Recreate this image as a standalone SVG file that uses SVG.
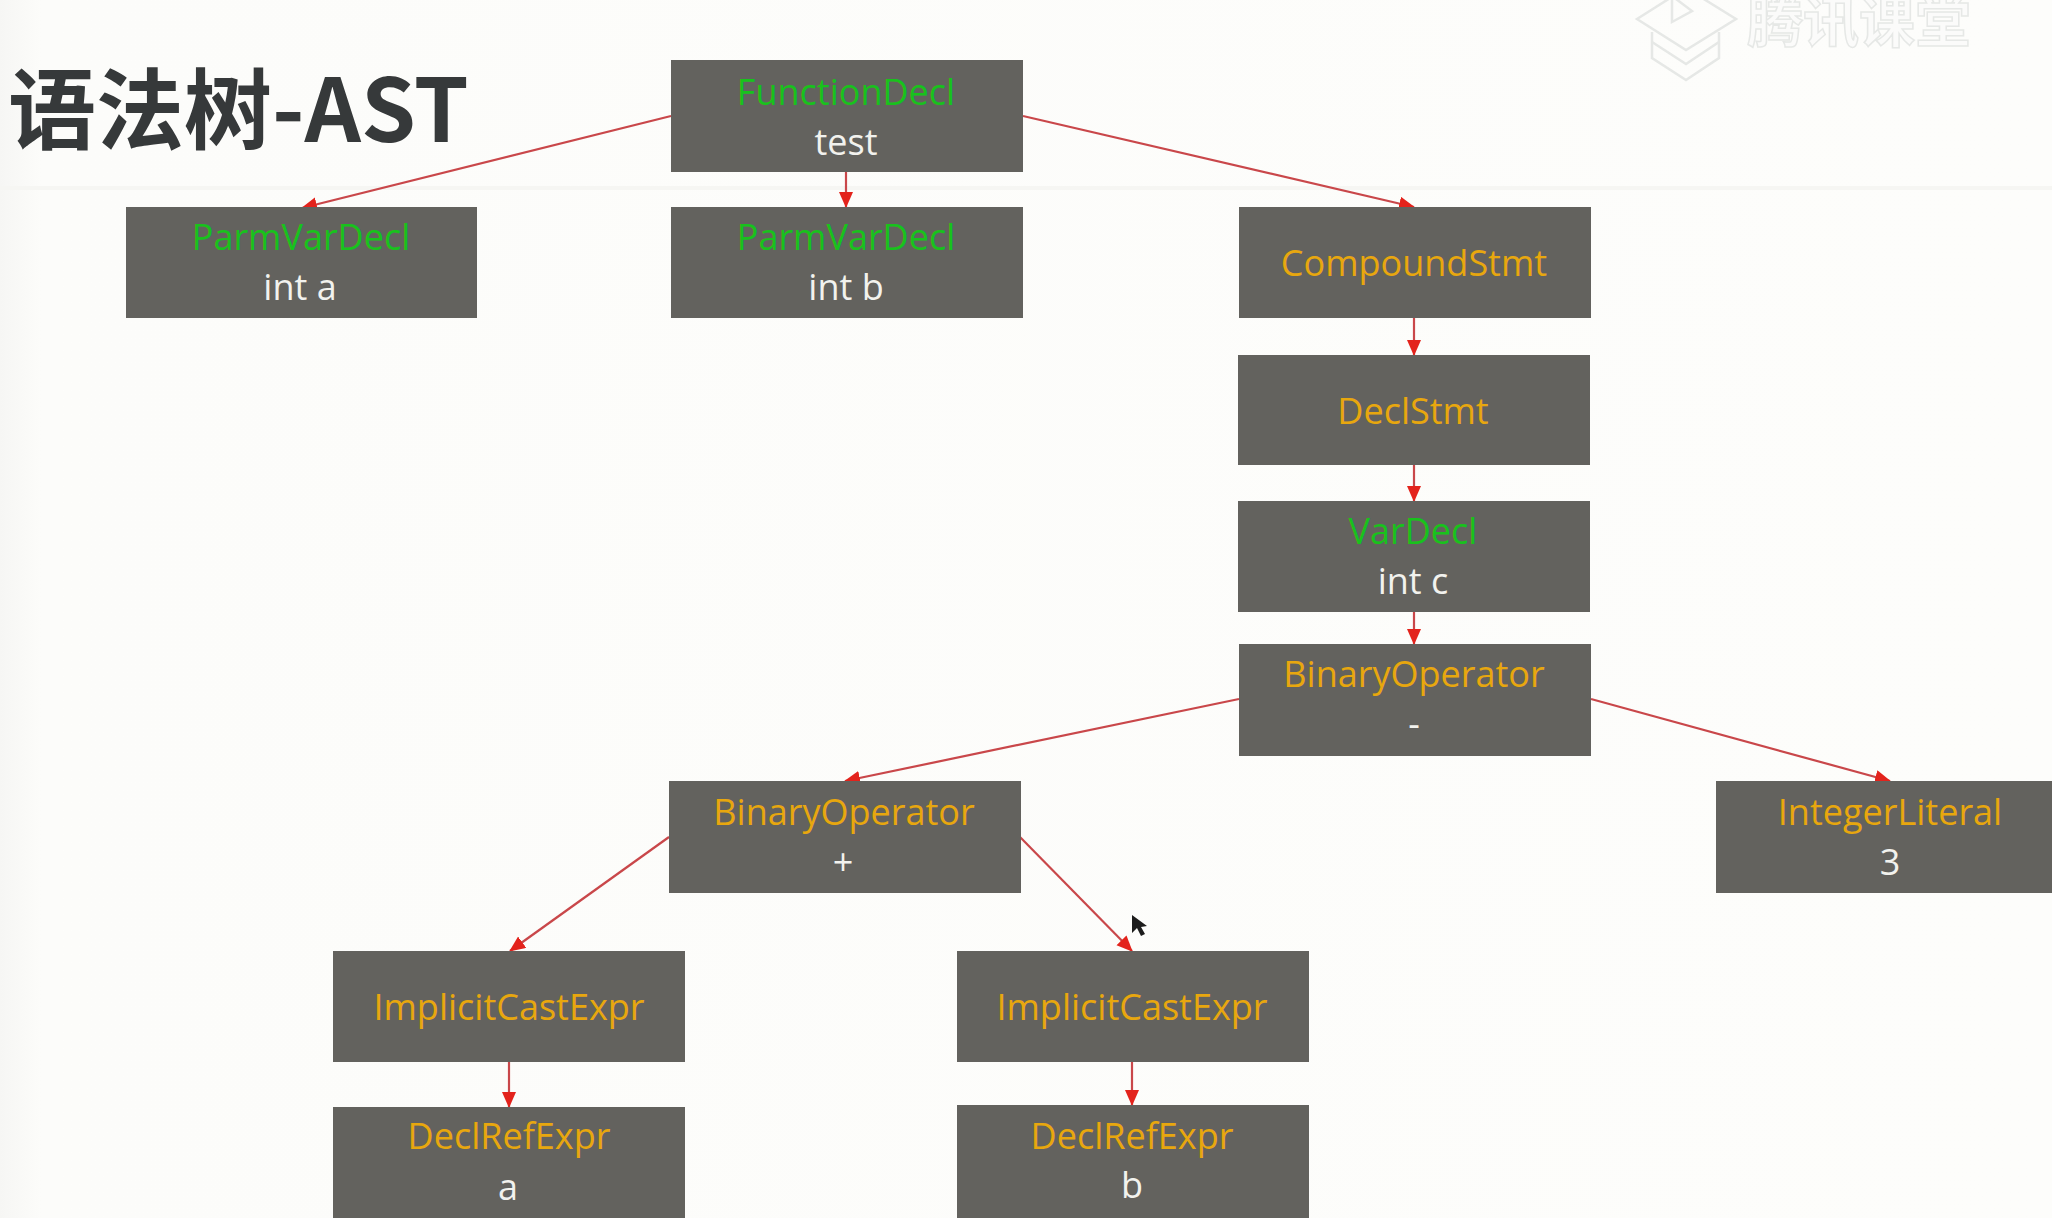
<svg xmlns="http://www.w3.org/2000/svg" width="2052" height="1218" viewBox="0 0 2052 1218">
<style>
.box{fill:#63625e}
.t{font-family:"Open Sans","Noto Sans",sans-serif;font-size:36px;text-anchor:middle}
.g{fill:#18c21c}.o{fill:#e8a70e}.w{fill:#f2f2ee}
.e{stroke:#c9474a;stroke-width:2.2;fill:none;marker-end:url(#a)}
</style>
<defs>
<marker id="a" markerUnits="userSpaceOnUse" markerWidth="18" markerHeight="16" refX="15" refY="7" orient="auto"><path d="M0 0L16 7L0 14Z" fill="#e3231c"/></marker>
<linearGradient id="bg" x1="0" x2="1" y1="0" y2="0"><stop offset="0" stop-color="#f6f6f4"/><stop offset="0.02" stop-color="#fcfcfa"/><stop offset="1" stop-color="#fdfdfb"/></linearGradient>
</defs>
<rect width="2052" height="1218" fill="url(#bg)"/>
<path d="M0 188H2052" stroke="#f6f6f3" stroke-width="4"/>
<g id="watermark" fill="none" stroke="#e6e8e6" stroke-width="2.5">
<path d="M1637 19L1686 -12L1736 19L1686 50Z"/>
<path d="M1652 32V58L1686 80L1719 58V32"/>
<path d="M1652 42L1686 64L1719 42"/>
<path d="M1672 -4V22L1692 11Z"/>
<text x="1747" y="42" font-family="Noto Sans CJK SC,sans-serif" font-size="56" font-weight="700" fill="#fbfbfa" stroke-width="1.5">腾讯课堂</text>
</g>
<text id="title" x="8" y="142" font-family="Noto Sans CJK SC,sans-serif" font-size="88" font-weight="700" fill="#36393a">语法树-AST</text>
<g id="connectors">
<path class="e" d="M671 116L302 208"/>
<path class="e" d="M846 171V207"/>
<path class="e" d="M1023 116L1414 207"/>
<path class="e" d="M1414 318V355"/>
<path class="e" d="M1414 465V501"/>
<path class="e" d="M1414 611V644"/>
<path class="e" d="M1239 699L845 781"/>
<path class="e" d="M1591 699L1890 781"/>
<path class="e" d="M669 837L510 951"/>
<path class="e" d="M1020 837L1132 951"/>
<path class="e" d="M509 1062V1107"/>
<path class="e" d="M1132 1062V1105"/>
</g>
<g id="n1"><rect class="box" x="671" y="60" width="352" height="112"/><text class="t g" x="846" y="105">FunctionDecl</text><text class="t w" x="846" y="155">test</text></g>
<g id="n2"><rect class="box" x="126" y="207" width="351" height="111"/><text class="t g" x="301" y="250">ParmVarDecl</text><text class="t w" x="300" y="300">int a</text></g>
<g id="n3"><rect class="box" x="671" y="207" width="352" height="111"/><text class="t g" x="846" y="250">ParmVarDecl</text><text class="t w" x="846" y="300">int b</text></g>
<g id="n4"><rect class="box" x="1239" y="207" width="352" height="111"/><text class="t o" x="1414" y="276">CompoundStmt</text></g>
<g id="n5"><rect class="box" x="1238" y="355" width="352" height="110"/><text class="t o" x="1413" y="424">DeclStmt</text></g>
<g id="n6"><rect class="box" x="1238" y="501" width="352" height="111"/><text class="t g" x="1413" y="544">VarDecl</text><text class="t w" x="1413" y="594">int c</text></g>
<g id="n7"><rect class="box" x="1239" y="644" width="352" height="112"/><text class="t o" x="1414" y="687">BinaryOperator</text><text class="t w" x="1414" y="737">-</text></g>
<g id="n8"><rect class="box" x="669" y="781" width="352" height="112"/><text class="t o" x="844" y="825">BinaryOperator</text><text class="t w" x="843" y="875">+</text></g>
<g id="n9"><rect class="box" x="1716" y="781" width="336" height="112"/><text class="t o" x="1890" y="825">IntegerLiteral</text><text class="t w" x="1890" y="875">3</text></g>
<g id="n10"><rect class="box" x="333" y="951" width="352" height="111"/><text class="t o" x="509" y="1020">ImplicitCastExpr</text></g>
<g id="n11"><rect class="box" x="957" y="951" width="352" height="111"/><text class="t o" x="1132" y="1020">ImplicitCastExpr</text></g>
<g id="n12"><rect class="box" x="333" y="1107" width="352" height="111"/><text class="t o" x="509" y="1149">DeclRefExpr</text><text class="t w" x="508" y="1200">a</text></g>
<g id="n13"><rect class="box" x="957" y="1105" width="352" height="113"/><text class="t o" x="1132" y="1149">DeclRefExpr</text><text class="t w" x="1132" y="1198">b</text></g>
<path id="cursor" d="M1132 915V933L1137 928L1141 936L1145 934L1141 927L1147 926Z" fill="#1c1c1c"/>
</svg>
